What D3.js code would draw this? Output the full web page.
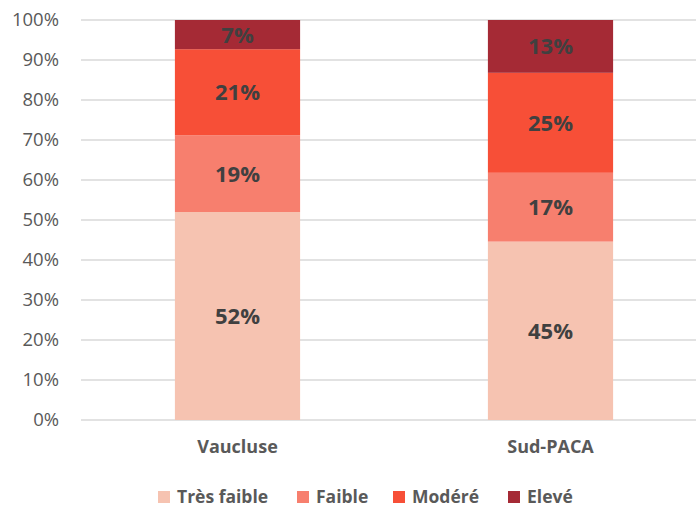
<!DOCTYPE html>
<html>
<head>
<meta charset="utf-8">
<script src="https://cdn.jsdelivr.net/npm/d3@7"></script>
<style>
  body { margin: 0; background: #fff; }
  svg { display: block; }
  svg text { font-family: "Open Sans", "Noto Sans", sans-serif; }
</style>
</head>
<body>
<svg id="chart" width="696" height="508"></svg>
<script>
// data
var categories = ["Vaucluse", "Sud-PACA"];
var series = ["Très faible", "Faible", "Modéré", "Elevé"];
var tresFaible = [52.0, 44.6];
var faible = [19.2, 17.2];
var modere = [21.5, 25.0];
var eleve = [7.3, 13.2];
var labels = [["52%", "19%", "21%", "7%"], ["45%", "17%", "25%", "13%"]];
var tickValues = [0, 10, 20, 30, 40, 50, 60, 70, 80, 90, 100];
var colors = ["#F6C3B1", "#F77F6E", "#F74F37", "#A52A35"];

var svg = d3.select("#chart"),
    margin = {left: 81, top: 20, bottom: 88},
    plotW = 626,
    plotH = 508 - margin.top - margin.bottom;

var rows = categories.map(function(c, i) {
  return {cat: c, "Très faible": tresFaible[i], "Faible": faible[i], "Modéré": modere[i], "Elevé": eleve[i], idx: i};
});

var x = d3.scaleBand().domain(categories).range([margin.left, margin.left + plotW]).paddingInner(0.6).paddingOuter(0.3);
var y = d3.scaleLinear().domain([0, 100]).range([margin.top + plotH, margin.top]);
var color = d3.scaleOrdinal().domain(series).range(colors);

// gridlines
svg.append("g")
  .selectAll("line")
  .data(tickValues)
  .enter().append("line")
    .attr("x1", margin.left).attr("x2", margin.left + plotW)
    .attr("y1", function(d) { return y(d); }).attr("y2", function(d) { return y(d); })
    .attr("stroke", "#D9D9D9").attr("stroke-width", 1.3);

// y axis labels
var yAxis = d3.axisLeft(y).tickValues(tickValues).tickSize(0).tickPadding(22)
  .tickFormat(function(d) { return d + "%"; });
var ya = svg.append("g").attr("transform", "translate(" + margin.left + ",0)").call(yAxis)
  .attr("font-family", null);
ya.select(".domain").remove();
ya.selectAll("text").attr("fill", "#595959").style("font-size", "18.5px");

var stack = d3.stack().keys(series);
var layers = stack(rows);

var layer = svg.append("g").selectAll("g")
  .data(layers)
  .enter().append("g")
    .attr("fill", function(d) { return color(d.key); });

layer.selectAll("rect")
  .data(function(d) { return d; })
  .enter().append("rect")
    .attr("x", function(d) { return x(d.data.cat); })
    .attr("width", x.bandwidth())
    .attr("y", function(d) { return y(d[1]); })
    .attr("height", function(d) { return y(d[0]) - y(d[1]); });

// value labels
layers.forEach(function(l, si) {
  svg.append("g").selectAll("text")
    .data(l)
    .enter().append("text")
      .attr("x", function(d) { return x(d.data.cat) + x.bandwidth() / 2; })
      .attr("y", function(d) { return (y(d[0]) + y(d[1])) / 2; })
      .attr("dy", "0.36em")
      .attr("text-anchor", "middle")
      .attr("fill", "#404040")
      .style("font-size", "22px")
      .style("font-weight", "bold")
      .text(function(d) { return labels[d.data.idx][si]; });
});

// x axis
var xAxis = d3.axisBottom(x).tickSize(0).tickPadding(20);
var xa = svg.append("g").attr("transform", "translate(0," + (margin.top + plotH) + ")").call(xAxis)
  .attr("font-family", null);
xa.select(".domain").remove();
xa.selectAll("text").attr("fill", "#595959").style("font-size", "18px").style("font-weight", "bold");

// legend
var legendX = [158, 297, 393, 508];
var lg = svg.append("g").selectAll("g")
  .data(series)
  .enter().append("g")
    .attr("transform", function(d, i) { return "translate(" + legendX[i] + ",491)"; });
lg.append("rect").attr("width", 12).attr("height", 12).attr("fill", function(d) { return color(d); });
lg.append("text")
  .attr("x", 19).attr("y", 6).attr("dy", "0.36em")
  .attr("fill", "#595959")
  .style("font-size", "17.5px").style("font-weight", "bold")
  .text(function(d) { return d; });
</script>
</body>
</html>
